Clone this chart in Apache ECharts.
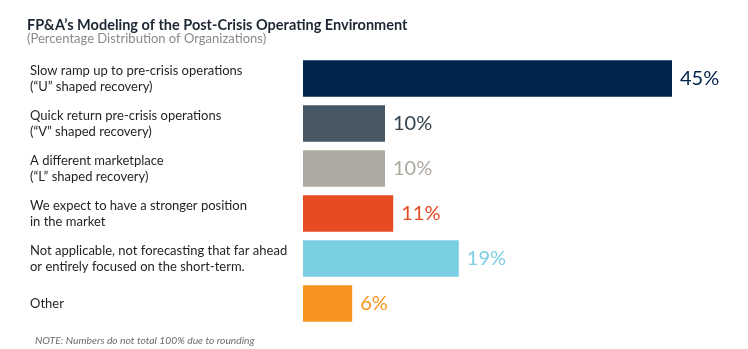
<!DOCTYPE html>
<html>
<head>
<meta charset="utf-8">
<script src="https://cdn.jsdelivr.net/npm/echarts@6/dist/echarts.min.js"></script>
<style>
html,body{margin:0;padding:0;background:#fff;}
#c{width:748px;height:349px;}
</style>
</head>
<body>
<div id="c"></div>
<script>
const categories = [
  "Slow ramp up to pre-crisis operations\n(\u201cU\u201d shaped recovery)",
  "Quick return pre-crisis operations\n(\u201cV\u201d shaped recovery)",
  "A different marketplace\n(\u201cL\u201d shaped recovery)",
  "We expect to have a stronger position\nin the market",
  "Not applicable, not forecasting that far ahead\nor entirely focused on the short-term.",
  "Other"
];
const values = [45, 10, 10, 11, 19, 6];
const labelTexts = ["45%", "10%", "10%", "11%", "19%", "6%"];

const barColors = ["#00244b", "#475864", "#aea9a1", "#e64b22", "#7acfe3", "#f7941f"];
const labelColors = ["#00244b", "#33424d", "#aea9a1", "#e64b22", "#7acfe3", "#f7941f"];

const chart = echarts.init(document.getElementById('c'), null, {renderer: 'canvas'});
chart.setOption({
  animation: false,
  backgroundColor: '#ffffff',
  title: [
    {text: "FP&A\u2019s Modeling of the Post-Crisis Operating Environment", left: 22, top: 13,
     textStyle: {fontFamily: 'Lato', fontWeight: 'bold', fontSize: 14.5, color: '#1d2733'}},
    {text: "(Percentage Distribution of Organizations)", left: 22, top: 27.5,
     textStyle: {fontFamily: 'Lato', fontWeight: 'normal', fontSize: 13, color: '#8a8a8a'}},
    {text: "NOTE: Numbers do not total 100% due to rounding", left: 30, top: 331,
     textStyle: {fontFamily: 'Lato', fontStyle: 'italic', fontWeight: 'normal', fontSize: 10.3, color: '#6d6d6d'}}
  ],
  grid: {left: 303, top: 56, width: 410, height: 270, containLabel: false},
  xAxis: {type: 'value', min: 0, max: 50, show: false},
  yAxis: {
    type: 'category', data: categories, inverse: true,
    axisLine: {show: false}, axisTick: {show: false}, splitLine: {show: false},
    axisLabel: {align: 'left', margin: 273, fontFamily: 'Lato', fontSize: 13, lineHeight: 16, color: '#231f20'}
  },
  series: [{
    type: 'bar',
    data: values.map((v, i) => ({value: v, itemStyle: {color: barColors[i]},
      label: {color: labelColors[i]}})),
    barCategoryGap: '19%',
    label: {
      show: true, position: 'right', distance: 8,
      fontFamily: 'Lato', fontSize: 20, fontWeight: 'normal',
      formatter: p => labelTexts[p.dataIndex]
    }
  }]
});
</script>
</body>
</html>
